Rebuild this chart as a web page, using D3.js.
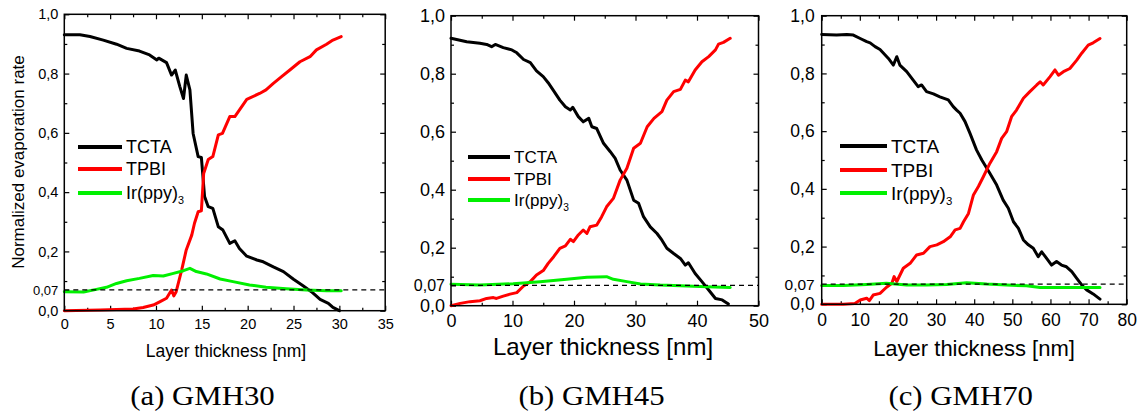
<!DOCTYPE html>
<html><head><meta charset="utf-8">
<script src="https://cdn.jsdelivr.net/npm/d3@7"></script>
<style>body{margin:0;background:#fff}svg{display:block}</style>
</head><body>
<svg id="c" width="1148" height="416"></svg>
<script>
// ---------- DATA ----------
const seriesNames = ["TCTA", "TPBI", "Ir(ppy)3"];
const captions = ["(a) GMH30", "(b) GMH45", "(c) GMH70"];
const yTickValues = [0, 0.07, 0.2, 0.4, 0.6, 0.8, 1.0];
const yTickLabels = ["0,0", "0,07", "0,2", "0,4", "0,6", "0,8", "1,0"];
const xTicks30 = [0, 5, 10, 15, 20, 25, 30, 35];
const xTicks45 = [0, 10, 20, 30, 40, 50];
const xTicks70 = [0, 10, 20, 30, 40, 50, 60, 70, 80];
const refLevel = 0.07;

const tcta30 = [[0,0.931],[1.7,0.931],[2.8,0.925],[4.25,0.913],[5.7,0.899],[6.8,0.885],[8.2,0.876],[9.3,0.863],[10.1,0.846],[10.3,0.852],[11.15,0.837],[11.7,0.795],[12.1,0.812],[12.6,0.756],[13.0,0.716],[13.3,0.795],[13.7,0.745],[14.05,0.598],[14.6,0.52],[14.95,0.517],[15.3,0.385],[15.7,0.351],[16.2,0.345],[16.8,0.283],[17.3,0.272],[18.05,0.227],[18.6,0.236],[19.1,0.21],[19.9,0.184],[21.0,0.171],[21.7,0.165],[22.8,0.148],[23.9,0.132],[25.0,0.106],[26.0,0.085],[26.95,0.064],[27.9,0.038],[28.8,0.025],[29.3,0.011],[30.0,0.0]];
const tpbi30 = [[0,0],[3.9,0.002],[7.5,0.006],[8.6,0.011],[9.7,0.019],[10.4,0.03],[11.15,0.042],[11.7,0.07],[11.95,0.05],[12.2,0.064],[12.8,0.137],[13.3,0.205],[13.9,0.255],[14.2,0.295],[14.6,0.334],[14.95,0.337],[15.2,0.463],[15.7,0.51],[16.2,0.52],[16.8,0.593],[17.25,0.598],[18.05,0.655],[18.6,0.655],[19.9,0.713],[21.3,0.733],[22.0,0.745],[22.8,0.767],[23.7,0.79],[24.6,0.812],[25.7,0.84],[26.8,0.857],[27.5,0.88],[28.6,0.899],[29.3,0.913],[30.2,0.925]];
const irppy30 = [[0,0.064],[2.1,0.063],[3.5,0.072],[4.6,0.079],[5.7,0.092],[6.8,0.101],[8.2,0.109],[9.7,0.119],[10.8,0.117],[11.9,0.126],[13.0,0.135],[13.7,0.143],[14.4,0.132],[15.5,0.124],[17.0,0.107],[18.4,0.098],[20.2,0.087],[22.0,0.079],[24.2,0.074],[26.4,0.07],[28.6,0.067],[30.2,0.067]];

const tcta45 = [[0,0.922],[2.55,0.91],[4.7,0.905],[5.8,0.901],[6.6,0.893],[7.2,0.901],[8.5,0.89],[9.9,0.882],[10.7,0.872],[11.8,0.849],[12.9,0.838],[13.9,0.81],[15.0,0.79],[15.8,0.769],[16.7,0.741],[17.7,0.709],[18.6,0.686],[19.4,0.675],[19.8,0.684],[20.7,0.652],[21.5,0.634],[22.4,0.646],[22.9,0.617],[23.7,0.611],[24.8,0.56],[25.9,0.531],[26.7,0.508],[27.5,0.468],[28.6,0.433],[29.7,0.364],[30.5,0.353],[31.3,0.307],[32.4,0.272],[33.5,0.249],[34.3,0.226],[35.1,0.198],[36.2,0.18],[37.3,0.163],[38.1,0.14],[38.6,0.148],[39.7,0.111],[40.8,0.083],[41.9,0.054],[43.0,0.025],[44.1,0.02],[45.1,0.006]];
const tpbi45 = [[0,0],[1.5,0.008],[3.1,0.014],[4.7,0.017],[5.8,0.025],[6.9,0.028],[7.4,0.025],[8.5,0.033],[9.6,0.04],[10.7,0.045],[11.8,0.068],[12.9,0.083],[13.9,0.106],[15.0,0.121],[15.8,0.146],[16.7,0.169],[17.7,0.198],[18.6,0.206],[19.4,0.229],[19.9,0.221],[20.7,0.244],[21.5,0.261],[22.1,0.249],[22.6,0.272],[23.7,0.278],[24.5,0.307],[25.3,0.341],[26.4,0.37],[27.5,0.433],[28.6,0.474],[29.7,0.543],[30.8,0.56],[31.9,0.617],[33.0,0.646],[34.3,0.669],[35.1,0.709],[36.2,0.738],[37.3,0.746],[38.1,0.778],[38.6,0.772],[39.7,0.813],[40.8,0.841],[41.9,0.859],[43.0,0.882],[43.5,0.902],[44.3,0.908],[45.4,0.922]];
const irppy45 = [[0,0.074],[4.7,0.071],[10.1,0.076],[14.5,0.083],[18.8,0.091],[22.1,0.098],[25.3,0.1],[26.4,0.091],[28.6,0.083],[30.8,0.075],[34.0,0.071],[37.3,0.069],[40.5,0.066],[45.4,0.063]];

const tcta70 = [[0,0.935],[3.9,0.933],[6.6,0.935],[8.3,0.933],[10.1,0.921],[11.8,0.91],[12.7,0.906],[14.0,0.893],[15.3,0.883],[17.5,0.852],[18.8,0.829],[19.7,0.858],[20.5,0.829],[22.3,0.806],[24.0,0.777],[25.3,0.754],[26.2,0.76],[27.5,0.737],[29.3,0.729],[31.0,0.719],[33.2,0.708],[34.5,0.685],[35.4,0.673],[36.3,0.662],[37.6,0.633],[38.9,0.592],[40.6,0.535],[42.0,0.5],[44.1,0.454],[45.9,0.413],[47.6,0.361],[48.95,0.333],[50.3,0.286],[51.6,0.263],[52.9,0.223],[54.2,0.206],[55.5,0.194],[56.8,0.165],[57.7,0.182],[59.0,0.159],[60.3,0.136],[61.6,0.148],[62.9,0.136],[64.2,0.13],[65.6,0.113],[66.9,0.09],[68.2,0.067],[69.5,0.05],[71.2,0.036],[73.0,0.018]];
const tpbi70 = [[0,0],[5.7,0],[8.7,0.003],[10.1,0.015],[11.8,0.021],[12.5,0.013],[13.5,0.032],[15.3,0.038],[17.0,0.059],[18.4,0.073],[19.0,0.096],[19.7,0.079],[21.4,0.125],[23.2,0.142],[24.9,0.171],[26.7,0.177],[28.4,0.2],[30.2,0.206],[31.9,0.217],[33.7,0.234],[35.0,0.258],[36.3,0.263],[37.2,0.286],[38.5,0.315],[39.8,0.379],[41.1,0.408],[42.4,0.442],[44.1,0.488],[45.9,0.529],[47.2,0.575],[48.5,0.598],[49.8,0.65],[51.1,0.673],[52.9,0.714],[54.6,0.737],[56.4,0.76],[57.3,0.771],[58.1,0.76],[59.9,0.789],[61.2,0.812],[62.1,0.794],[63.4,0.806],[65.1,0.817],[66.9,0.846],[68.2,0.87],[69.9,0.898],[71.2,0.906],[73.0,0.921]];
const irppy70 = [[0,0.065],[5.7,0.065],[11.8,0.069],[17.0,0.073],[22.3,0.067],[27.5,0.067],[32.8,0.069],[38.0,0.075],[43.3,0.07],[48.5,0.067],[53.7,0.064],[57.3,0.058],[62.5,0.058],[73.0,0.058]];

// ---------- LAYOUT / STYLE ----------
const colors = ["#000000", "#ff0000", "#00f000"];
const panels = [
  {data:[tcta30,tpbi30,irppy30], xTicks:xTicks30, xMinor:2.5, xMax:35, L:64.3, R:385.2, T:14.3, B:310.7,
   tickFont:14.5, refFont:13, xPad:8, yPad:6, titleFont:17.5, titleX:226, titleY:357, yTitle:true,
   legX1:78, legX2:122, legY:[147,169,193], legFont:18, capX:202.5},
  {data:[tcta45,tpbi45,irppy45], xTicks:xTicks45, xMinor:5, xMax:50, L:451, R:758.5, T:15.7, B:305.7,
   tickFont:18, refFont:16, xPad:9, yPad:6, titleFont:24, titleX:603, titleY:355, yTitle:false,
   legX1:468, legX2:510, legY:[157,179,200], legFont:17, capX:591.5},
  {data:[tcta70,tpbi70,irppy70], xTicks:xTicks70, xMinor:5, xMax:80, L:821.7, R:1126.7, T:15.7, B:304.3,
   tickFont:17.5, refFont:15.5, xPad:9, yPad:7, titleFont:22, titleX:974, titleY:356, yTitle:false,
   legX1:840, legX2:887, legY:[146,170,193], legFont:19, capX:960.7}
];

const svg = d3.select("#c");
const sans = "'Liberation Sans', Arial, sans-serif";
const capStretch = 1.1;

panels.forEach((p, pi) => {
  const x = d3.scaleLinear().domain([0, p.xMax]).range([p.L, p.R]);
  const y = d3.scaleLinear().domain([0, 1]).range([p.B, p.T]);
  const g = svg.append("g");
  const minorX = d3.range(0, p.xMax + 1e-9, p.xMinor).filter(v => !p.xTicks.some(t => Math.abs(t - v) < 1e-9));
  const minorY = [0.1, 0.3, 0.5, 0.7, 0.9];
  const yMajorTicks = [0, 0.2, 0.4, 0.6, 0.8, 1.0];

  // minor ticks (all four sides)
  g.append("g").attr("transform", `translate(0,${p.B})`).call(d3.axisBottom(x).tickValues(minorX).tickSizeInner(-3).tickSizeOuter(0).tickFormat(""));
  g.append("g").attr("transform", `translate(0,${p.T})`).call(d3.axisTop(x).tickValues(minorX).tickSizeInner(-3).tickSizeOuter(0).tickFormat(""));
  g.append("g").attr("transform", `translate(${p.L},0)`).call(d3.axisLeft(y).tickValues(minorY).tickSizeInner(-3).tickSizeOuter(0).tickFormat(""));
  g.append("g").attr("transform", `translate(${p.R},0)`).call(d3.axisRight(y).tickValues(minorY).tickSizeInner(-3).tickSizeOuter(0).tickFormat(""));
  // major ticks top/right
  g.append("g").attr("transform", `translate(0,${p.T})`).call(d3.axisTop(x).tickValues(p.xTicks).tickSizeInner(-5).tickSizeOuter(0).tickFormat(""));
  g.append("g").attr("transform", `translate(${p.R},0)`).call(d3.axisRight(y).tickValues(yMajorTicks).tickSizeInner(-5).tickSizeOuter(0).tickFormat(""));
  // labelled axes
  const xa = g.append("g").attr("transform", `translate(0,${p.B})`)
    .call(d3.axisBottom(x).tickValues(p.xTicks).tickSizeInner(-5).tickSizeOuter(0).tickPadding(p.xPad).tickFormat(d3.format("d")));
  xa.selectAll("text").attr("font-size", p.tickFont).attr("font-family", sans).attr("fill", "#000");
  const ya = g.append("g").attr("transform", `translate(${p.L},0)`)
    .call(d3.axisLeft(y).tickValues(yTickValues).tickSizeInner(-5).tickSizeOuter(0).tickPadding(p.yPad)
      .tickFormat((d, i) => yTickLabels[i]));
  ya.selectAll("text").attr("font-size", d => d === refLevel ? p.refFont : p.tickFont).attr("font-family", sans).attr("fill", "#000");
  g.selectAll(".domain").remove();
  g.selectAll(".tick line").attr("stroke", "#000").attr("stroke-width", 1.2);

  // curves
  const line = d3.line().x(d => x(d[0])).y(d => y(d[1]));
  p.data.forEach((s, si) => {
    g.append("path").datum(s).attr("d", line).attr("fill", "none")
      .attr("stroke", colors[si]).attr("stroke-width", 3).attr("stroke-linejoin", "round").attr("stroke-linecap", "round");
  });
  // reference dashed line
  g.append("line").attr("x1", x(0)).attr("x2", x(p.xMax)).attr("y1", y(refLevel)).attr("y2", y(refLevel))
    .attr("stroke", "#000").attr("stroke-width", 1.2).attr("stroke-dasharray", "5,4");

  // frame
  g.append("rect").attr("x", p.L).attr("y", p.T).attr("width", p.R - p.L).attr("height", p.B - p.T)
    .attr("fill", "none").attr("stroke", "#000").attr("stroke-width", 1.5);

  // legend
  seriesNames.forEach((n, si) => {
    g.append("line").attr("x1", p.legX1).attr("x2", p.legX2).attr("y1", p.legY[si]).attr("y2", p.legY[si])
      .attr("stroke", colors[si]).attr("stroke-width", 4);
    const t = g.append("text").attr("x", p.legX2 + 4).attr("y", p.legY[si]).attr("dy", "0.36em")
      .attr("font-family", sans).attr("font-size", p.legFont).attr("fill", "#000");
    if (n === "Ir(ppy)3") {
      t.append("tspan").text("Ir(ppy)");
      t.append("tspan").text("3").attr("font-size", p.legFont * 0.6).attr("dy", "0.45em");
    } else t.text(n);
  });

  // axis titles
  g.append("text").attr("x", p.titleX).attr("y", p.titleY).attr("text-anchor", "middle")
    .attr("font-family", sans).attr("font-size", p.titleFont).attr("fill", "#000").text("Layer thickness [nm]");
  if (p.yTitle) {
    g.append("text").attr("transform", "translate(24,162) rotate(-90)").attr("text-anchor", "middle")
      .attr("font-family", sans).attr("font-size", 17).attr("fill", "#000").text("Normalized evaporation rate");
  }
  // caption (slightly widened serif to mimic Computer Modern)
  svg.append("text").attr("transform", `translate(${p.capX},405) scale(${capStretch},1)`).attr("text-anchor", "middle")
    .attr("font-family", "'Liberation Serif', 'Times New Roman', serif").attr("font-size", 28)
    .attr("fill", "#000").text(captions[pi]);
});
</script>
</body></html>
